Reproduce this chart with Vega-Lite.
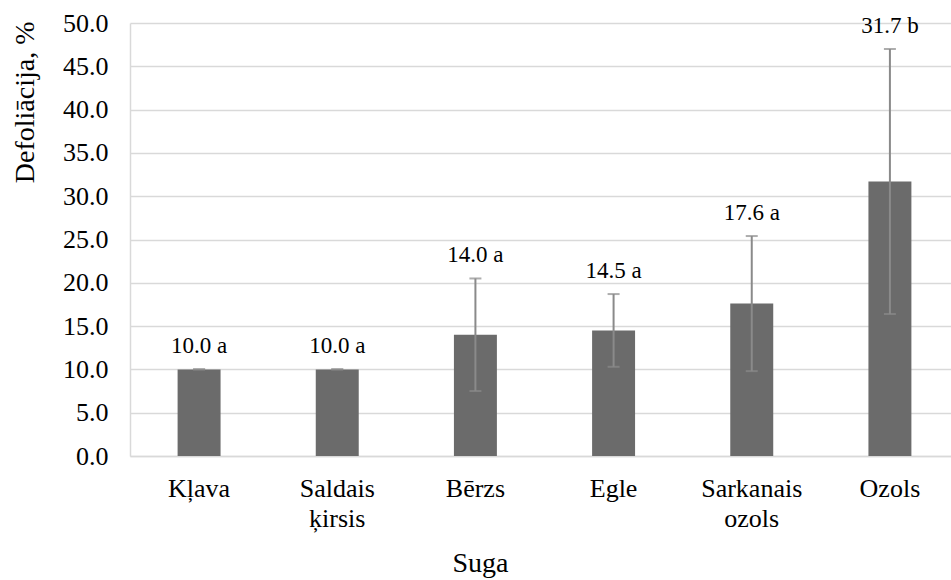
{
  "$schema": "https://vega.github.io/schema/vega-lite/v6.json",
  "width": 821,
  "height": 433,
  "autosize": {"type": "none"},
  "padding": {"left": 130, "top": 23, "right": 0, "bottom": 124},
  "background": "white",
  "config": {"font": "'Liberation Serif', 'Times New Roman', serif", "view": {"stroke": null}},
  "data": {
    "values": [
      {"species": "Kļava", "mean": 10.0, "low": 10.0, "high": 10.0, "label": "10.0 a"},
      {"species": "Saldais ķirsis", "mean": 10.0, "low": 10.0, "high": 10.0, "label": "10.0 a"},
      {"species": "Bērzs", "mean": 14.0, "low": 7.5, "high": 20.5, "label": "14.0 a"},
      {"species": "Egle", "mean": 14.5, "low": 10.3, "high": 18.7, "label": "14.5 a"},
      {"species": "Sarkanais ozols", "mean": 17.6, "low": 9.8, "high": 25.4, "label": "17.6 a"},
      {"species": "Ozols", "mean": 31.7, "low": 16.4, "high": 47.0, "label": "31.7 b"}
    ]
  },
  "encoding": {
    "x": {
      "field": "species",
      "type": "nominal",
      "sort": null,
      "scale": {"paddingInner": 0.689, "paddingOuter": 0.3445, "range": [0, 829]},
      "axis": {
        "labelAngle": 0,
        "labelFontSize": 26,
        "labelColor": "#000000",
        "labelExpr": "split(datum.label, ' ')",
        "labelLineHeight": 30,
        "labelBaseline": "alphabetic",
        "labelPadding": 40,
        "labelOverlap": false,
        "labelBound": false,
        "ticks": false,
        "domain": true,
        "domainColor": "#d9d9d9",
        "domainWidth": 1.5,
        "title": "Suga",
        "titleFontSize": 28,
        "titleFontWeight": "normal",
        "titleColor": "#000000",
        "titleX": 350,
        "titleY": 115,
        "titleBaseline": "alphabetic",
        "titleAlign": "center"
      }
    }
  },
  "layer": [
    {
      "mark": {"type": "bar", "color": "#6b6b6b"},
      "encoding": {
        "y": {
          "field": "mean",
          "type": "quantitative",
          "scale": {"domain": [0, 50], "nice": false},
          "axis": {
            "values": [0, 5, 10, 15, 20, 25, 30, 35, 40, 45, 50],
            "format": ".1f",
            "labelFontSize": 26,
            "labelColor": "#000000",
            "labelPadding": 22,
            "labelOverlap": false,
            "ticks": false,
            "grid": true,
            "gridColor": "#d9d9d9",
            "gridWidth": 1.5,
            "domain": true,
            "domainColor": "#d9d9d9",
            "domainWidth": 1.5,
            "title": "Defoliācija, %",
            "titleFontSize": 28,
            "titleFontWeight": "normal",
            "titleColor": "#000000",
            "titleAngle": -90,
            "titleX": -105,
            "titleY": -2,
            "titleAlign": "right",
            "titleBaseline": "middle"
          }
        }
      }
    },
    {
      "mark": {"type": "rule", "color": "#8a8a8a", "strokeWidth": 2},
      "encoding": {
        "y": {"field": "low", "type": "quantitative"},
        "y2": {"field": "high"}
      }
    },
    {
      "mark": {"type": "tick", "color": "#8a8a8a", "size": 12, "thickness": 2},
      "encoding": {"y": {"field": "low", "type": "quantitative"}}
    },
    {
      "mark": {"type": "tick", "color": "#8a8a8a", "size": 12, "thickness": 2},
      "encoding": {"y": {"field": "high", "type": "quantitative"}}
    },
    {
      "mark": {"type": "text", "fontSize": 23, "color": "#000000", "baseline": "alphabetic", "dy": -16},
      "encoding": {
        "y": {"field": "high", "type": "quantitative"},
        "text": {"field": "label"}
      }
    }
  ]
}
